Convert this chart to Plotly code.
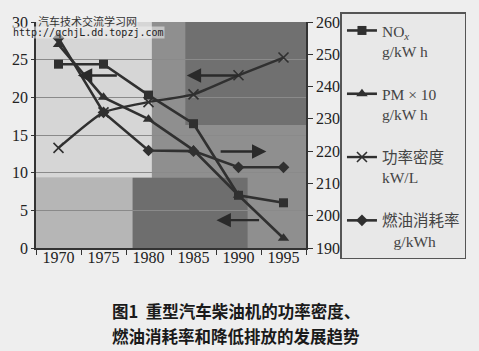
import plotly.graph_objects as go

# ---- data ----
years = ["1970", "1975", "1980", "1985", "1990", "1995"]
nox = [24.4, 24.4, 20.3, 16.5, 7.0, 6.0]            # NOx g/kWh (left axis)
pm10 = [27.0, 20.0, 17.1, 13.0, 7.0, 1.3]           # PM x 10 g/kWh (left axis)
power_density = [221.0, 232.0, 235.2, 237.6, 243.5, 249.0]  # kW/L (right axis)
fuel = [255.0, 232.0, 220.2, 220.0, 215.0, 215.0]   # g/kWh (right axis)

left_ticks = [0, 5, 10, 15, 20, 25, 30]
right_ticks = [190, 200, 210, 220, 230, 240, 250, 260]

W, H = 479, 351
L, R, T, B = 29, 311, 13, 248  # plot area in pixels

def px(x):
    return (x - L) / (R - L)

def py(y):
    return (B - y) / (B - T)

LINE = "#303030"
serif = "Liberation Serif, Times New Roman, Noto Sans CJK SC, serif"

fig = go.Figure()
fig.add_trace(go.Scatter(
    x=years, y=nox, name="NO<sub><i>x</i></sub><br>g/kW h", legendgroup="a",
    mode="lines+markers", line=dict(color=LINE, width=2.6),
    marker=dict(symbol="square", size=9, color=LINE)))
fig.add_trace(go.Scatter(
    x=years, y=pm10, name="PM × 10<br>g/kW h", legendgroup="b",
    mode="lines+markers", line=dict(color=LINE, width=2.6),
    marker=dict(symbol="triangle-up", size=10, color=LINE)))
fig.add_trace(go.Scatter(
    x=years, y=power_density, name="功率密度<br>kW/L", legendgroup="c", yaxis="y2",
    mode="lines+markers", line=dict(color=LINE, width=2.4, shape="spline", smoothing=0.5),
    marker=dict(symbol="x-thin-open", size=10, line=dict(color=LINE, width=1.6))))
fig.add_trace(go.Scatter(
    x=years, y=fuel, name="燃油消耗率<br>\u00a0\u00a0\u00a0g/kWh", legendgroup="d", yaxis="y2",
    mode="lines+markers", line=dict(color=LINE, width=2.6),
    marker=dict(symbol="diamond", size=9, color=LINE)))

# background texture approximation (scan shading)
shapes = []
for (x0, x1, y0, y1, c) in [
    (29, 150, 13, 175, "#d6d6d6"),
    (29, 130, 175, 248, "#b6b6b6"),
    (185, 311, 13, 120, "#707070"),
    (130, 250, 175, 248, "#6e6e6e"),
]:
    shapes.append(dict(type="rect", xref="paper", yref="paper", layer="below",
                       x0=px(x0), x1=px(x1), y0=py(y1), y1=py(y0),
                       fillcolor=c, line=dict(width=0)))

annotations = []
# axis-indicating arrows: (tip index, tail index, y on left axis)
arrows = [(0.43, 1.33, 22.9), (2.85, 4.03, 22.9), (4.62, 3.57, 12.8), (3.51, 4.49, 3.7)]
for tip, tail, yy in arrows:
    annotations.append(dict(x=tip, y=yy, ax=tail, ay=yy, xref="x", yref="y",
                            axref="x", ayref="y", text="", showarrow=True,
                            arrowhead=2, arrowsize=1.2, arrowwidth=2.4,
                            arrowcolor="#2a2a2a"))

# watermark
annotations.append(dict(x=px(30), y=py(12), xref="paper", yref="paper", xanchor="left",
                        yanchor="middle", text="汽车技术交流学习网", showarrow=False,
                        font=dict(family="Noto Sans CJK SC", size=11, color="#333"),
                        bgcolor="rgba(240,240,240,0.55)", borderpad=0))
annotations.append(dict(x=px(4), y=py(23.5), xref="paper", yref="paper", xanchor="left",
                        yanchor="middle", text="http://qchjL.dd.topzj.com", showarrow=False,
                        font=dict(family="DejaVu Sans Mono", size=10, color="#222"),
                        bgcolor="rgba(240,240,240,0.55)", borderpad=0))
# caption
cap_font = dict(family="Noto Sans CJK SC", size=16.5, color="#1a1a1a", weight="bold")
annotations.append(dict(x=px(238), y=py(313), xref="paper", yref="paper", xanchor="center",
                        yanchor="middle", text="图1\u00a0\u00a0重型汽车柴油机的功率密度、",
                        showarrow=False, font=cap_font))
annotations.append(dict(x=px(238), y=py(340), xref="paper", yref="paper", xanchor="center",
                        yanchor="middle", text="燃油消耗率和降低排放的发展趋势",
                        showarrow=False, font=cap_font))

fig.update_layout(
    width=W, height=H,
    margin=dict(l=L, r=W - R, t=T, b=H - B, pad=0),
    paper_bgcolor="#eeeeee", plot_bgcolor="#8f8f8f",
    font=dict(family=serif, size=16, color="#222"),
    xaxis=dict(type="category", categoryorder="array", categoryarray=years,
               range=[-0.5, 5.5], tickson="boundaries", ticks="outside", ticklen=5,
               tickcolor="#333", showline=True, linecolor="#333", linewidth=1.5,
               showgrid=False, ticklabelstandoff=-6,
               tickfont=dict(family=serif, size=16, color="#222")),
    yaxis=dict(range=[0, 30], tickvals=left_ticks, ticks="outside", ticklen=3,
               tickcolor="#333", showline=True, linecolor="#333", linewidth=1.5,
               showgrid=True, gridcolor="#8a8a8a", gridwidth=1, zeroline=False,
               tickfont=dict(family=serif, size=16, color="#222")),
    yaxis2=dict(range=[190, 260], tickvals=right_ticks, overlaying="y", side="right",
                ticks="outside", ticklen=5, tickcolor="#333", showline=True,
                linecolor="#333", linewidth=1.5, showgrid=False, zeroline=False,
                tickfont=dict(family=serif, size=16, color="#222")),
    legend=dict(x=px(347), y=py(3), xanchor="left", yanchor="top",
                bgcolor="#e8e8e8", bordercolor="#555", borderwidth=1.5,
                font=dict(family=serif, size=15.5, color="#444"),
                tracegroupgap=20, valign="top", itemwidth=30, traceorder="grouped",
                maxheight=340, entrywidth=82, entrywidthmode="pixels"),
    shapes=shapes, annotations=annotations, showlegend=True,
)

fig.write_html("out.html")
